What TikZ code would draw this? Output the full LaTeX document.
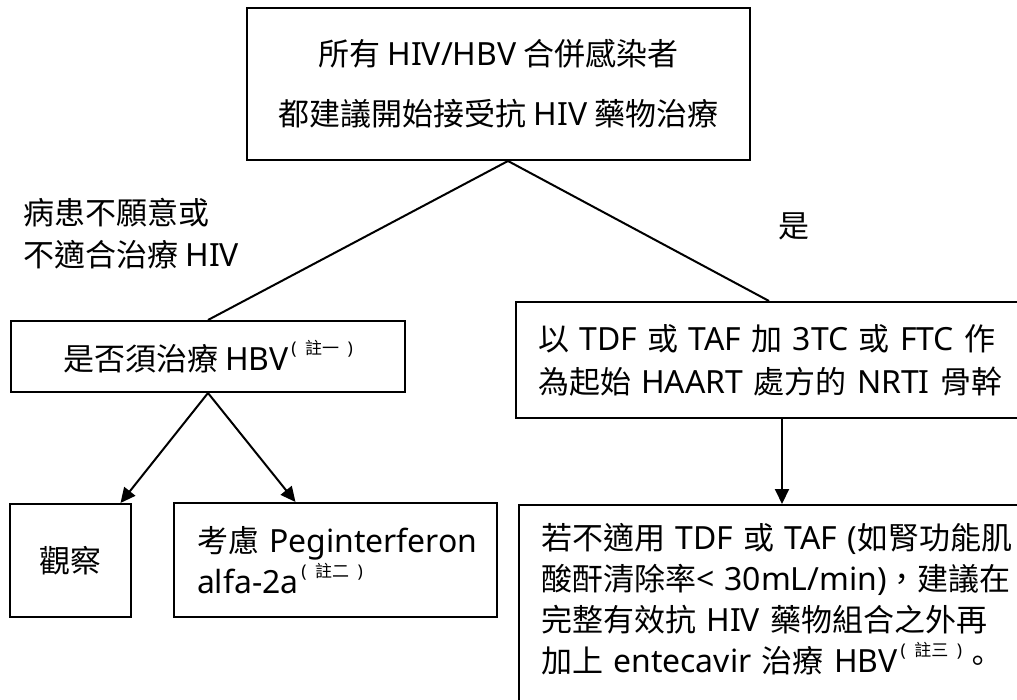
\documentclass[tikz,border=0pt]{standalone}
\usepackage{fontspec}
\setmainfont{Noto Sans CJK TC}
\newfontfamily\latfont{Noto Sans}[Scale=1.03]
\usetikzlibrary{arrows.meta,positioning}
\newcommand{\eng}[1]{{\latfont #1}}
\newcommand{\zhunote}[1]{\raisebox{0.5em}{\fontsize{17}{17}\selectfont\,\eng{(}\enskip#1\enskip\eng{)}}}
\tikzset{
  box/.style={draw, line width=2pt, inner sep=0pt},
  link/.style={line width=2pt},
  arr/.style={link, -{Triangle[length=15pt,width=14pt]}},
}
\begin{document}
\begin{tikzpicture}[x=1pt, y=-1pt, every node/.style={font=\fontsize{31}{41}\selectfont}]
  \useasboundingbox (0,0) rectangle (1017,700);
  \clip (0,0) rectangle (1017,700);
  \node[box, minimum width=503, minimum height=152, align=center, font=\fontsize{31}{60}\selectfont] (all) at (498.5,84) {所有 \eng{HIV/HBV} 合併感染者\\都建議開始接受抗 \eng{HIV} 藥物治療};
  \node[anchor=west, align=left, font=\fontsize{31}{42}\selectfont] (no) at (20,234) {病患不願意或\\不適合治療 \eng{HIV}};
  \node (yes) at (794,226) {是};
  \node[box, minimum width=394, minimum height=71] (need) at (208,356.5) {是否須治療 \eng{HBV}\zhunote{註一}};
  \node[box, minimum width=121, minimum height=113] (watch) at (70.5,560.5) {觀察};
  \node[box, minimum width=323, minimum height=114, align=left, text width=277] (peg) at (335.5,560) {\mbox{考慮 \eng{Peginterferon}}\\\eng{alfa-2a}\zhunote{註二}};
  \node[box, anchor=north west, inner xsep=22, minimum height=116, text width=462, align=left, font=\fontsize{31}{43}\selectfont] (tdf) at (515,301)
    {\makebox[462pt][s]{以 \eng{TDF} 或 \eng{TAF} 加 \eng{3TC} 或 \eng{FTC} 作}\\\makebox[462pt][s]{為起始 \eng{HAART} 處方的 \eng{NRTI} 骨幹}};
  \node[box, anchor=north west, inner xsep=22, inner ysep=18, text width=462, align=left] (ent) at (518,504)
    {\makebox[462pt][s]{若不適用 \eng{TDF} 或 \eng{TAF (}如腎功能肌}\\
     \makebox[462pt][s]{酸酐清除率\eng{< 30mL/min)}，建議在}\\
     \makebox[462pt][s]{完整有效抗 \eng{HIV} 藥物組合之外再}\\
     加上 \eng{entecavir} 治療 \eng{HBV}\zhunote{註三}。\\
     \mbox{}};
  \draw[link] ([xshift=9.5]all.south) -- (need.north);
  \draw[link] ([xshift=9.5]all.south) -- (tdf.north);
  \draw[arr] (need.south) -- ([xshift=50]watch.north);
  \draw[arr] (need.south) -- ([xshift=-40]peg.north);
  \draw[arr] ([xshift=13]tdf.south) -- ([xshift=10]ent.north);
\end{tikzpicture}
\end{document}
